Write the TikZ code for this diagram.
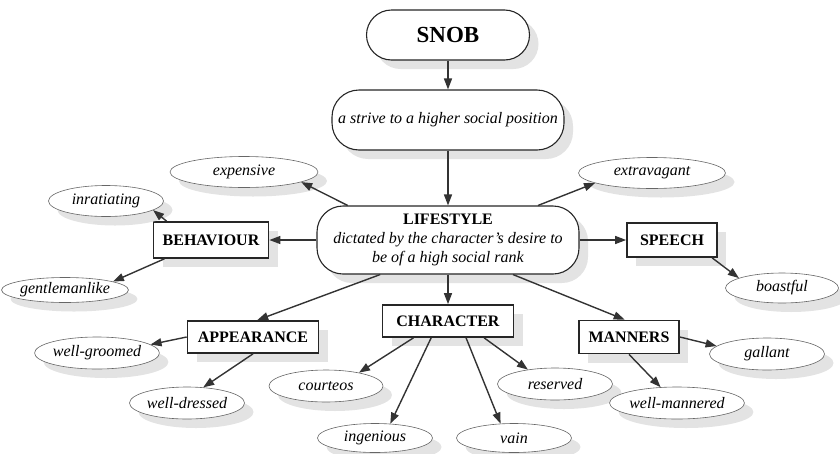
\documentclass[tikz,border=0pt]{standalone}
\usepackage{fontspec}
\setmainfont{Liberation Serif}
\usetikzlibrary{shapes.geometric,shadows,arrows.meta}
\tikzset{
  shadowed/.style={general shadow={fill=black!11, shadow xshift=9pt, shadow yshift=-9pt}},
  oval/.style={ellipse, draw=black!60, line width=0.6pt, fill=white, shadowed, inner sep=0pt,
    minimum width=115pt, minimum height=31pt, font=\fontsize{16}{19}\selectfont\itshape},
  catbox/.style={rectangle, draw=black!85, line width=1.7pt, fill=white, shadowed, inner sep=0pt,
    minimum height=33pt, font=\fontsize{16}{19}\selectfont\bfseries},
  roundbox/.style={rectangle, draw=black!85, line width=1.1pt, fill=white, shadowed, inner sep=0pt, align=center},
  arr/.style={draw=black!80, line width=1.4pt, -{Triangle[length=11pt,width=8pt]}},
}
\begin{document}
\begin{tikzpicture}[x=1pt,y=-1pt]
\useasboundingbox (0,0) rectangle (840,453);
% main chain
\node[roundbox, rounded corners=25pt, minimum width=163pt, minimum height=50pt,
  font=\fontsize{23}{27}\selectfont\bfseries] (snob) at (448,35) {SNOB};
\node[roundbox, rounded corners=27pt, minimum width=232pt, minimum height=60pt,
  font=\fontsize{16}{19}\selectfont\itshape] (strive) at (448,120) {a strive to a higher social position};
\node[roundbox, rounded corners=26pt, minimum width=262pt, minimum height=68pt,
  font=\fontsize{16}{19}\selectfont] (life) at (448,240)
  {\textbf{LIFESTYLE}\\ \textit{dictated by the character’s desire to}\\ \textit{be of a high social rank}};
% ellipses top
\node[oval, minimum width=148pt] (expensive) at (244,172) {expensive};
\node[oval, minimum width=147pt] (extravagant) at (652,173) {extravagant};
% category boxes
\node[catbox, minimum width=115pt, minimum height=36pt] (behav) at (211,240) {BEHAVIOUR};
\node[catbox, minimum width=90pt, minimum height=34pt] (speech) at (672,240) {SPEECH};
\node[catbox, minimum width=131pt, minimum height=32pt] (appear) at (253,337) {APPEARANCE};
\node[catbox, minimum width=131pt, minimum height=32pt] (character) at (448,321) {CHARACTER};
\node[catbox, minimum width=100pt, minimum height=33pt] (manners) at (629,337) {MANNERS};
% leaf ellipses
\node[oval] (inrat) at (106,201) {inratiating};
\node[oval, minimum width=116pt, minimum height=25pt] (gentle) at (65,290) {gentlemanlike};
\node[oval, minimum width=113pt, minimum height=30pt] (boastful) at (782,288) {boastful};
\node[oval, minimum height=32pt] (groomed) at (97,353) {well-groomed};
\node[oval, minimum height=32pt] (dressed) at (187,403) {well-dressed};
\node[oval, minimum width=114pt, minimum height=32pt] (courteos) at (326,386) {courteos};
\node[oval, minimum height=29pt] (ingenious) at (375,438) {ingenious};
\node[oval, minimum height=32pt] (reserved) at (555,384) {reserved};
\node[oval, minimum height=29pt] (vain) at (514,438) {vain};
\node[oval, minimum height=32pt] (gallant) at (767,354) {gallant};
\node[oval, minimum height=32pt] (wellmann) at (677,403) {well-mannered};
% connectors
\draw[arr] (snob.south) -- (strive.north);
\draw[arr] (strive.south) -- (life.north);
\draw[arr] (life.161) -- (expensive.-10);
\draw[arr] (life.21) -- (extravagant.190);
\draw[arr] (life.west) -- (behav.east);
\draw[arr] (life.east) -- (speech.west);
\draw[arr] (behav.157) -- (inrat.-11);
\draw[arr] (behav.202) -- (gentle.10);
\draw[arr] (speech.-24) -- (boastful.167);
\draw[arr] (life.207) -- (appear.76);
\draw[arr] (life.south) -- (character.north);
\draw[arr] (life.-28) -- (manners.104);
\draw[arr] (appear.west) -- (groomed.9);
\draw[arr] (appear.south) -- (dressed.44);
\draw[arr] (character.206) -- (courteos.22);
\draw[arr] (character.225) -- (ingenious.43);
\draw[arr] (character.-43) -- (vain.133);
\draw[arr] (character.-25) -- (reserved.152);
\draw[arr] (manners.east) -- (gallant.171);
\draw[arr] (manners.south) -- (wellmann.136);
\end{tikzpicture}
\end{document}
